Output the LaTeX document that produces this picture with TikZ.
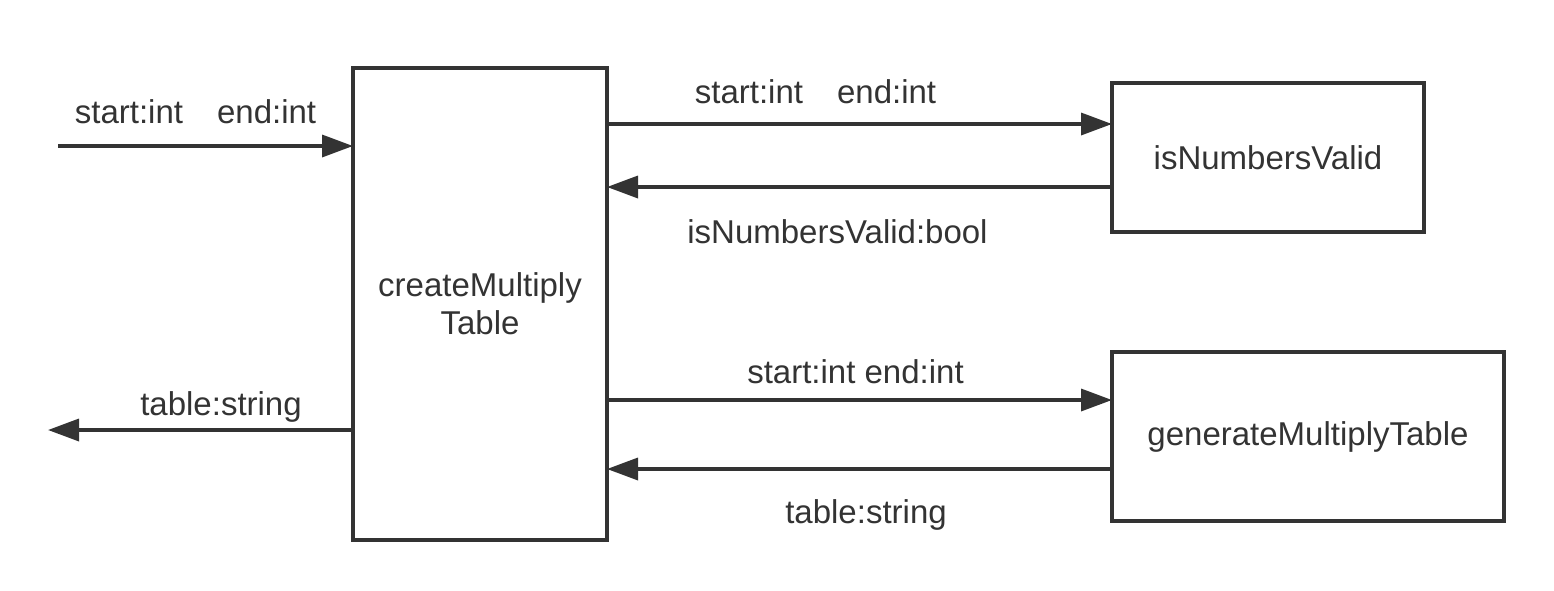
\documentclass[tikz,border=0pt]{standalone}
\usepackage{fontspec}
\setmainfont{Liberation Sans}
\usepackage{tikz}
\usetikzlibrary{arrows.meta}

\definecolor{ink}{HTML}{333333}

\begin{document}
\begin{tikzpicture}[x=0.5pt,y=-0.5pt,
    font=\fontsize{16.5}{19}\selectfont, text=ink,
    box/.style={draw=ink, line width=2pt, inner sep=0pt, outer sep=0pt},
    flow/.style={draw=ink, line width=1.75pt, -{Triangle[length=15.5pt,width=11pt]}},
    lbl/.style={anchor=base, inner sep=0pt}]

    \useasboundingbox (0,0) rectangle (1554,590);

    % boxes
    \node (main) at (480,304) [box, minimum width=127pt, minimum height=236pt, align=center] {createMultiply\\Table};
    \node (valid) at (1268,157.5) [box, minimum width=156pt, minimum height=74.5pt] {isNumbersValid};
    \node (gen) at (1308,436.5) [box, minimum width=196pt, minimum height=84.5pt] {generateMultiplyTable};

    \coordinate (src) at (58,146);
    \coordinate (dst) at (48,430);

    % outside
    \draw [flow] (src) -- (src -| main.west);
    \draw [flow] (dst -| main.west) -- (dst);
    \node (inargs) at (195.5,123) [lbl] {start:int\hspace{17pt}end:int};
    \node (outres) at (221,415) [lbl] {table:string};

    % isNumbersValid
    \draw [flow] ([yshift=16.75pt]valid.west -| main.east) -- ([yshift=16.75pt]valid.west);
    \draw [flow] ([yshift=-14.75pt]valid.west) -- ([yshift=-14.75pt]valid.west -| main.east);
    \node (validargs) at (815.5,103) [lbl] {start:int\hspace{17pt}end:int};
    \node (validres) at (837.5,243) [lbl] {isNumbersValid:bool};

    % generateMultiplyTable
    \draw [flow] ([yshift=18.25pt]gen.west -| main.east) -- ([yshift=18.25pt]gen.west);
    \draw [flow] ([yshift=-16.25pt]gen.west) -- ([yshift=-16.25pt]gen.west -| main.east);
    \node (genargs) at (855.5,383) [lbl] {start:int end:int};
    \node (genres) at (866,523) [lbl] {table:string};

\end{tikzpicture}
\end{document}
